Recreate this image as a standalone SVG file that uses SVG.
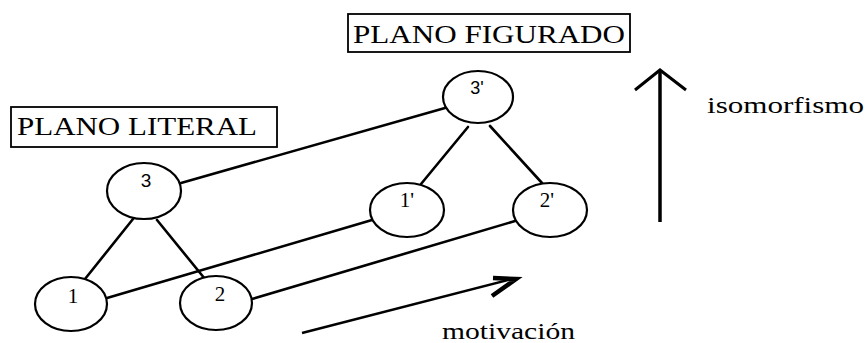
<svg xmlns="http://www.w3.org/2000/svg" width="866" height="343" viewBox="0 0 866 343">
<style>
.n{fill:#fff;stroke:#000;stroke-width:2.2}
.e{stroke:#000;stroke-width:2.6;fill:none;stroke-linecap:round}
.b{fill:#fff;stroke:#000;stroke-width:1.8}
.t{font-family:"Liberation Serif","Times New Roman",serif;fill:#000}
.s{font-family:"Liberation Sans",Arial,sans-serif;fill:#000}
</style>
<rect width="866" height="343" fill="#fff"/>
<g id="connectors">
<line class="e" x1="181" y1="183" x2="445" y2="108"/>
<line class="e" x1="133" y1="219" x2="85" y2="279"/>
<line class="e" x1="157" y1="220" x2="205" y2="279"/>
<line class="e" x1="468" y1="127" x2="421" y2="184"/>
<line class="e" x1="490" y1="126" x2="542" y2="183"/>
<line class="e" x1="107" y1="298" x2="372" y2="220"/>
<line class="e" x1="252" y1="299" x2="515" y2="221"/>
</g>
<g id="box-literal">
<rect class="b" x="11" y="107" width="266" height="40"/>
<text class="t" x="17" y="135" font-size="25" textLength="240" lengthAdjust="spacingAndGlyphs">PLANO LITERAL</text>
</g>
<g id="box-figurado">
<rect class="b" x="348" y="14" width="282" height="38"/>
<text class="t" x="353" y="43" font-size="25" textLength="272" lengthAdjust="spacingAndGlyphs">PLANO FIGURADO</text>
</g>
<g id="node-3">
<ellipse class="n" cx="144" cy="191" rx="37" ry="28"/>
<text class="s" x="146" y="187" font-size="19" text-anchor="middle">3</text>
</g>
<g id="node-1">
<ellipse class="n" cx="71" cy="304" rx="36" ry="27"/>
<text class="t" x="73" y="303" font-size="21" text-anchor="middle">1</text>
</g>
<g id="node-2">
<ellipse class="n" cx="216" cy="303" rx="36" ry="27"/>
<text class="t" x="220" y="301" font-size="21" text-anchor="middle">2</text>
</g>
<g id="node-3p">
<ellipse class="n" cx="478" cy="97" rx="35" ry="26"/>
<text class="s" x="477" y="94" font-size="18" text-anchor="middle">3'</text>
</g>
<g id="node-1p">
<ellipse class="n" cx="407" cy="210" rx="37" ry="27"/>
<text class="t" x="407" y="207" font-size="21" text-anchor="middle">1'</text>
</g>
<g id="node-2p">
<ellipse class="n" cx="550" cy="210" rx="37" ry="27"/>
<text class="t" x="547" y="207" font-size="21" text-anchor="middle">2'</text>
</g>
<g id="arrow-isomorfismo">
<line x1="660" y1="72" x2="660" y2="222" stroke="#000" stroke-width="3.5"/>
<polyline points="635,90 660,70 686,90" fill="none" stroke="#000" stroke-width="3"/>
<text class="t" x="707" y="113" font-size="24" textLength="157" lengthAdjust="spacingAndGlyphs">isomorfismo</text>
</g>
<g id="arrow-motivacion">
<line x1="302" y1="333" x2="512" y2="279" stroke="#000" stroke-width="2.4"/>
<polyline points="493,278 516,279 492,296" fill="none" stroke="#000" stroke-width="4.5" stroke-linejoin="miter"/>
<text class="t" x="442" y="339" font-size="24" textLength="133" lengthAdjust="spacingAndGlyphs">motivación</text>
</g>
</svg>
